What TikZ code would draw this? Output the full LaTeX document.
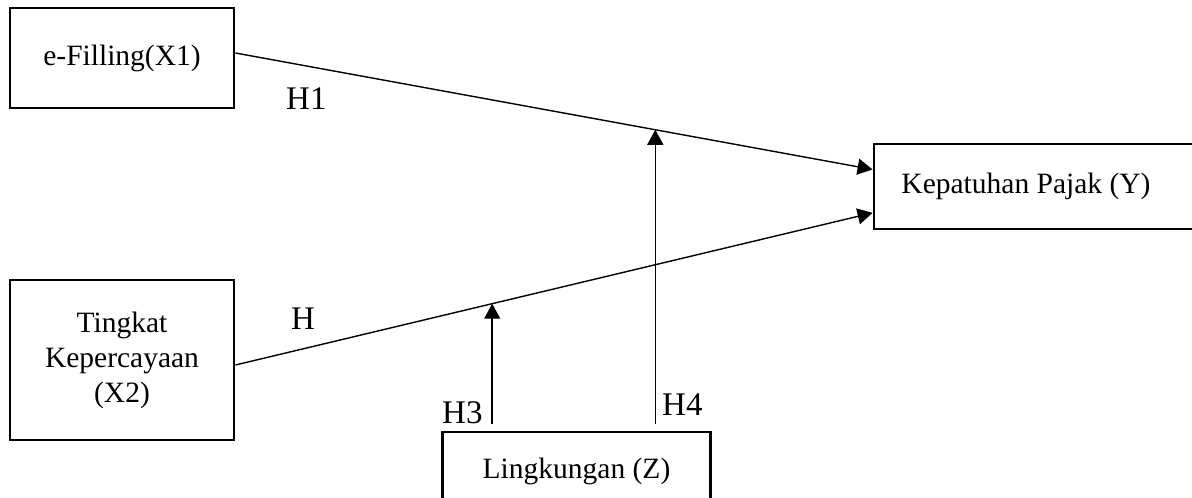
\documentclass[tikz,border=0pt]{standalone}
\usepackage{fontspec}
\setmainfont{Liberation Serif}
\usetikzlibrary{arrows.meta,calc}
\begin{document}
\begin{tikzpicture}[x=1pt,y=-1pt,
  varbox/.style={draw=black,line width=2.8pt,inner sep=0pt,font=\fontsize{29.5}{35}\selectfont,align=center},
  conn/.style={line width=1.4pt,-{Triangle[length=15pt,width=16pt]}},
  hlabel/.style={inner sep=0pt,anchor=base west,font=\fontsize{33}{38}\selectfont}]
\useasboundingbox (0,0) rectangle (1192,498);
\node[varbox,minimum width=224pt,minimum height=100pt] (X1) at (122,58) {e-Filling(X1)};
\node[varbox,minimum width=224pt,minimum height=160pt] (X2) at (122,360) {Tingkat\\Kepercayaan\\(X2)};
\node[varbox,minimum width=322pt,minimum height=85pt] (Y) at (1035,186.5) {Kepatuhan Pajak (Y)\hspace*{18pt}};
\node[varbox,minimum width=268pt,minimum height=78pt] (Z) at (576.5,471) {Lingkungan (Z)};
% main paths
\coordinate (y1) at ($(Y.north west)!0.306!(Y.south west)$);
\coordinate (y2) at ($(Y.north west)!0.8!(Y.south west)$);
\draw[conn] ($(X1.east)+(0,-5)$) -- (y1);
\draw[conn] ($(X2.east)+(0,5)$) -- (y2);
% moderation points
\coordinate (m4) at ($($(X1.east)+(0,-5)$)!0.659!(y1)$);
\coordinate (m3) at ($($(X2.east)+(0,5)$)!0.403!(y2)$);
\coordinate (z4) at ($(m4 |- Z.north)+(0,-7)$);
\coordinate (z3) at ($(m3 |- Z.north)+(0,-7)$);
\draw[conn] (z4) -- (m4);
\draw[conn] (z3) -- (m3);
% labels
\node[hlabel] (h1) at (286,109) {H1};
\node[hlabel] (h2) at (291,329) {H};
\node[hlabel] (h3) at (442,423) {H3};
\node[hlabel] (h4) at (662,415) {H4};
\end{tikzpicture}
\end{document}
